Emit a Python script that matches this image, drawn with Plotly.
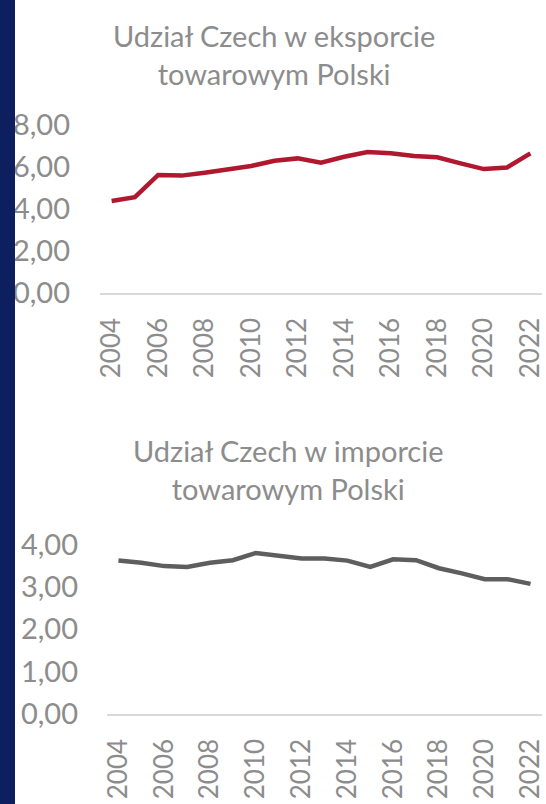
import plotly.graph_objects as go

years = list(range(2004, 2023))
export_share = [4.38, 4.56, 5.62, 5.59, 5.73, 5.89, 6.05, 6.30, 6.41, 6.20,
                6.49, 6.71, 6.65, 6.52, 6.46, 6.17, 5.90, 5.98, 6.65]
import_share = [3.62, 3.57, 3.49, 3.47, 3.57, 3.63, 3.80, 3.73, 3.67, 3.67,
                3.62, 3.47, 3.65, 3.63, 3.44, 3.32, 3.18, 3.18, 3.07]
tick_years = list(range(2004, 2023, 2))
export_yticks = [0, 2, 4, 6, 8]
import_yticks = [0, 1, 2, 3, 4]
title_export = "Udział Czech w eksporcie<br>towarowym Polski"
title_import = "Udział Czech w imporcie<br>towarowym Polski"

W, H = 546, 804
FONT = "Lato"
GRAY_TXT = "#8c8c8c"

def fmt(v):
    return f"{v:.2f}".replace(".", ",")

fig = go.Figure()
fig.add_trace(go.Scatter(x=years, y=export_share, mode="lines",
                         line=dict(color="#b01830", width=4.5),
                         xaxis="x", yaxis="y", showlegend=False, hoverinfo="skip"))
fig.add_trace(go.Scatter(x=years, y=import_share, mode="lines",
                         line=dict(color="#5e5e5e", width=4.5),
                         xaxis="x2", yaxis="y2", showlegend=False, hoverinfo="skip"))

def px_x(a, b):
    return [a / W, b / W]

def px_y(top, bottom):
    return [1 - bottom / H, 1 - top / H]

xcommon = dict(tickmode="array", tickvals=tick_years, ticktext=[str(y) for y in tick_years],
               tickangle=-90, showgrid=False, zeroline=False, showline=True,
               linecolor="#d9d9d9", linewidth=1.5, ticks="", automargin=False,
               ticklabeloverflow="allow",
               tickfont=dict(family=FONT, size=26, color=GRAY_TXT),
               ticklabelstandoff=13)
ycommon = dict(showgrid=False, zeroline=False, showline=False, ticks="", automargin=False,
               ticklabeloverflow="allow",
               tickfont=dict(family=FONT, size=29, color=GRAY_TXT))

fig.update_layout(
    width=W, height=H,
    margin=dict(l=0, r=0, t=0, b=0, pad=0),
    paper_bgcolor="white", plot_bgcolor="white",
    xaxis=dict(domain=px_x(100, 542), range=[2003.5, 2022.5], anchor="y", **xcommon),
    yaxis=dict(domain=px_y(125, 293), range=[0, 8], anchor="x", ticklabelstandoff=29,
               tickvals=export_yticks, ticktext=[fmt(v) for v in export_yticks], **ycommon),
    xaxis2=dict(domain=px_x(107, 542), range=[2003.5, 2022.5], anchor="y2", **xcommon),
    yaxis2=dict(domain=px_y(544.5, 714), range=[0, 4], anchor="x2", ticklabelstandoff=28,
                tickvals=import_yticks, ticktext=[fmt(v) for v in import_yticks], **ycommon),
    annotations=[
        dict(text=title_export, x=274 / W, y=1 - 55 / H, xref="paper", yref="paper",
             showarrow=False, xanchor="center", yanchor="middle",
             font=dict(family=FONT, size=29, color=GRAY_TXT)),
        dict(text=title_import, x=288 / W, y=1 - 470 / H, xref="paper", yref="paper",
             showarrow=False, xanchor="center", yanchor="middle",
             font=dict(family=FONT, size=29, color=GRAY_TXT)),
    ],
    shapes=[dict(type="rect", xref="paper", yref="paper", x0=0, x1=15 / W, y0=0, y1=1,
                 fillcolor="#0d1f5e", line=dict(width=0), layer="above")],
)

fig.write_html("out.html", config={"displayModeBar": False, "staticPlot": True},
               post_script="document.body.style.margin='0';document.body.style.overflow='hidden';")
